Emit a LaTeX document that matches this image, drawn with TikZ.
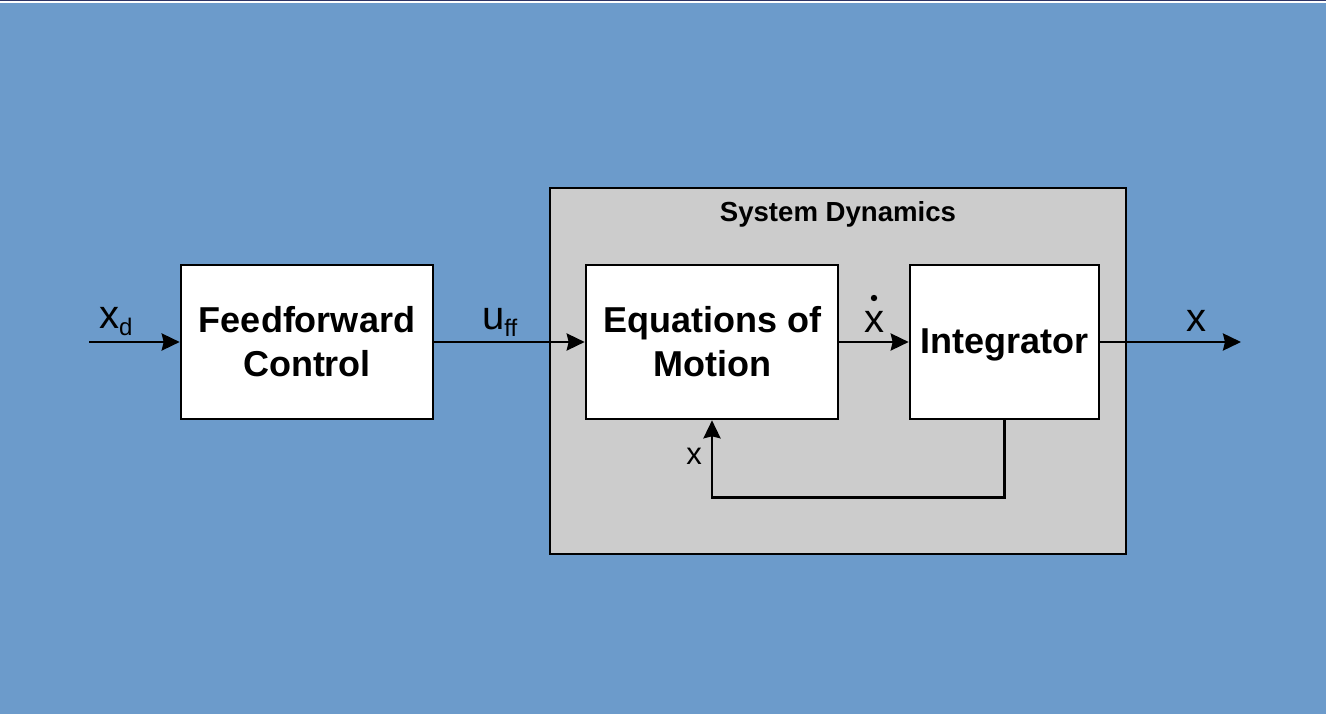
\documentclass[tikz,border=0pt]{standalone}
\usepackage{fontspec}
\setmainfont{Liberation Sans}
\usetikzlibrary{arrows.meta}
\definecolor{bgblue}{HTML}{6C9BCB}
\definecolor{sdgray}{HTML}{CCCCCC}
\definecolor{topnavy}{HTML}{2E3566}
\newcommand{\boxfont}{\fontsize{36}{44}\selectfont\bfseries}
\newcommand{\lblfont}{\fontsize{40}{42}\selectfont}
\newcommand{\subfont}{\fontsize{24}{26}\selectfont}
\begin{document}
\begin{tikzpicture}[x=1pt,y=-1pt,
  blockbox/.style={draw=black,line width=2.6pt,fill=white,minimum height=154pt,inner sep=0pt,align=center,font=\boxfont},
  sysbox/.style={draw=black,line width=1.5pt,fill=sdgray,minimum width=576pt,minimum height=366pt,inner sep=0pt},
  sig/.style={line width=2.8pt,-{Stealth[length=18pt,width=17pt,inset=2pt]}},
  lbl/.style={inner sep=0pt,font=\lblfont}]
\fill[bgblue] (0,0) rectangle (1326,714);
\fill[topnavy] (0,0) rectangle (1326,1.2);
\fill[white] (0,1.2) rectangle (1326,2.6);
\useasboundingbox (0,0) rectangle (1326,714);

\node[sysbox] (sd) at (838,371) {};
\node[font=\fontsize{27.6}{30}\selectfont\bfseries,anchor=base] (sdt) at (838,222) {System Dynamics};

\node[blockbox,minimum width=252pt] (ff) at (307,342) {Feedforward\\Control};
\node[blockbox,minimum width=252pt] (eom) at (712,342) {Equations of\\Motion};
\node[blockbox,minimum width=189pt,text depth=2pt] (int) at (1004.5,342) {Integrator};

\coordinate (in) at (89,342);
\coordinate (out) at (1241,342);

\draw[sig] (in) -- (ff.west);
\draw[sig] (ff.east) -- (eom.west);
\draw[sig] (eom.east) -- (int.west);
\draw[sig] (int.east) -- (out);
\draw[sig] (int.south) -- ++(0,77) -| (eom.south);

\node[lbl,anchor=base west] (xd) at (99,328) {x\raisebox{-7pt}{\subfont d}};
\node[lbl,anchor=base west] (uff) at (482,329) {u\raisebox{-7pt}{\subfont ff}};
\node[lbl,anchor=base] (xdot) at (874,332) {x};
\coordinate (dotc) at (874,298);
\fill[black] (dotc) circle (3.2pt);
\node[lbl,anchor=base] (xout) at (1196,331) {x};
\node[font=\fontsize{31}{33}\selectfont,inner sep=0pt,anchor=base] (xfb) at (694,464) {x};
\end{tikzpicture}
\end{document}
